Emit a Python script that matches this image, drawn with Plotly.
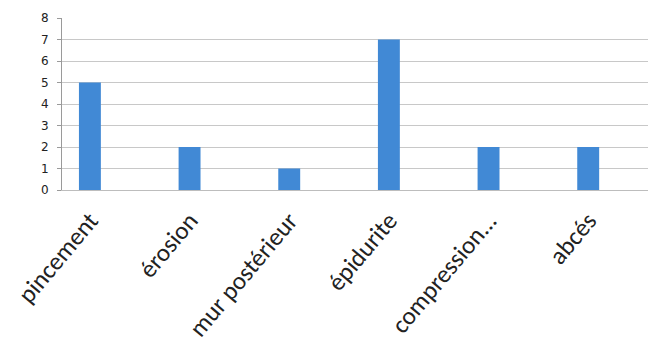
import plotly.graph_objects as go

categories = ["pincement", "érosion", "mur postérieur", "épidurite", "compression...", "abcés"]
values = [5, 2, 1, 7, 2, 2]
y_ticks = [0, 1, 2, 3, 4, 5, 6, 7, 8]

fig = go.Figure(
    go.Bar(
        x=list(range(len(categories))),
        y=values,
        width=0.22,
        marker=dict(color="#4189d5", line=dict(width=0)),
    )
)

fig.update_layout(
    width=652,
    height=353,
    margin=dict(l=62, r=4, t=18, b=163),
    paper_bgcolor="white",
    plot_bgcolor="white",
    showlegend=False,
    font=dict(family="Liberation Sans, Arial, sans-serif", color="#333333"),
)

fig.update_xaxes(
    range=[-0.28, 5.6],
    tickmode="array",
    tickvals=list(range(len(categories))),
    ticktext=categories,
    tickangle=-50,
    tickfont=dict(size=25, color="#222222", family="Carlito, Liberation Sans, sans-serif"),
    showgrid=False,
    showline=True,
    linecolor="#bdbdbd",
    linewidth=1,
    ticks="outside",
    ticklen=5,
    tickcolor="rgba(0,0,0,0)",
    zeroline=False,
)

fig.update_yaxes(
    range=[0, 8],
    tickmode="array",
    tickvals=y_ticks,
    tickfont=dict(size=12, color="#222222", family="DejaVu Sans, sans-serif"),
    showgrid=True,
    gridcolor="#c8c8c8",
    gridwidth=1,
    showline=True,
    linecolor="#9a9a9a",
    ticks="outside",
    ticklen=4,
    tickcolor="#9a9a9a",
    ticklabelstandoff=6,
    zeroline=False,
)

fig.write_html("out.html")
